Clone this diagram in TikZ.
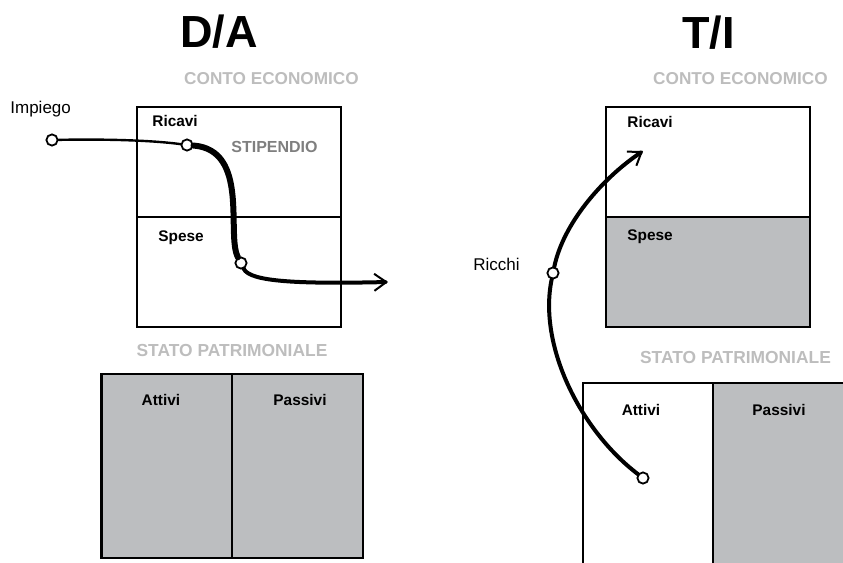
\documentclass[tikz,border=0pt]{standalone}
\usepackage{fontspec}
\setmainfont{Liberation Sans}
\usetikzlibrary{arrows.meta}
\definecolor{fillg}{HTML}{BCBEC0}
\definecolor{headg}{HTML}{BDBDBD}
\definecolor{stipg}{HTML}{7F7F7F}
\tikzset{
    box/.style = {draw=black, line width=1.4pt, fill=white},
    boxg/.style = {draw=black, line width=1.4pt, fill=fillg},
    ring/.style = {circle, draw=black, line width=0.9pt, fill=white, inner sep=0pt, minimum size=5.6pt},
    titl/.style = {inner sep=0pt, font=\fontsize{22.5}{26}\selectfont\bfseries},
    headce/.style = {inner sep=0pt, text=headg, font=\fontsize{8.6}{10}\selectfont\bfseries},
    headsp/.style = {inner sep=0pt, text=headg, font=\fontsize{8.7}{10}\selectfont\bfseries},
    lab/.style = {inner sep=0pt, font=\fontsize{7.7}{9}\selectfont\bfseries},
    labg/.style = {inner sep=0pt, text=stipg, font=\fontsize{8}{10}\selectfont\bfseries},
    labn/.style = {inner sep=0pt, font=\fontsize{8.5}{10}\selectfont},
    edgeth/.style = {line width=1.2pt, line cap=round},
    edgek/.style = {line width=3pt, line cap=round},
    edgem/.style = {line width=2pt, line cap=round},
    barb/.style = {-{Straight Barb[length=6pt,width=8.5pt,line width=1pt]}}
}

\begin{document}
\begin{tikzpicture}[x=0.5pt, y=-0.5pt]
\clip (0,0) rectangle (843,563);
% titles
\node[titl, anchor=base] (da) at (219,47) {D/A};
\node[titl, anchor=base] (ti) at (708.5,48) {T/I};
\node[headce, anchor=base] (ce1) at (271.5,84) {CONTO ECONOMICO};
\node[headce, anchor=base] (ce2) at (740.5,84) {CONTO ECONOMICO};
\node[headsp, anchor=base] (sp1) at (232,356.5) {STATO PATRIMONIALE};
\node[headsp, anchor=base] (sp2) at (735.5,363) {STATO PATRIMONIALE};
%
% left boxes
\draw[box] (137,107) rectangle (341,327);
\draw[line width=1.4pt] (137,217) -- (341,217);
\draw[boxg] (101.5,374) rectangle (232,558);
\draw[boxg] (232,374) rectangle (363,558);
% right boxes
\draw[box] (606,107) rectangle (810,217);
\draw[boxg] (606,217) rectangle (810,327);
\draw[box] (583,383) rectangle (713,590);
\draw[boxg] (713,383) rectangle (870,590);
%
\node[lab, anchor=base west] (ricl) at (152,126) {Ricavi};
\node[lab, anchor=base west] (spel) at (158,241) {Spese};
\node[labg, anchor=base west] (stip) at (231,152) {STIPENDIO};
\node[lab, anchor=base west] (ricr) at (627,127) {Ricavi};
\node[lab, anchor=base west] (sper) at (627,240) {Spese};
\node[lab, anchor=base] (attl) at (161,405) {Attivi};
\node[lab, anchor=base] (pasl) at (300,405) {Passivi};
\node[lab, anchor=base] (attr) at (641,415) {Attivi};
\node[lab, anchor=base] (pasr) at (779,415) {Passivi};
\node[labn, anchor=base west] (impl) at (10,113) {Impiego};
\node[labn, anchor=base west] (richl) at (473,270) {Ricchi};
%
% left path
\node[ring] (imp) at (52,140) {};
\node[ring] (ric) at (187,145) {};
\node[ring] (spe) at (241,263) {};
\coordinate (out) at (388,282);
\draw[edgeth] (imp) .. controls (100,139) and (150,140) .. (ric);
\draw[edgek] (ric) .. controls (250,150) and (226,235) .. (spe);
\draw[edgem, barb] (spe) .. controls (250,282) and (300,284) .. (out);
%
% right path
\node[ring] (att) at (643,478) {};
\node[ring] (rich) at (553,273) {};
\coordinate (inr) at (643,151);
\draw[edgem] (att) .. controls (580,430) and (538,345) .. (rich);
\draw[edgem, barb] (rich) .. controls (563,225) and (600,180) .. (inr);
\end{tikzpicture}
\end{document}
